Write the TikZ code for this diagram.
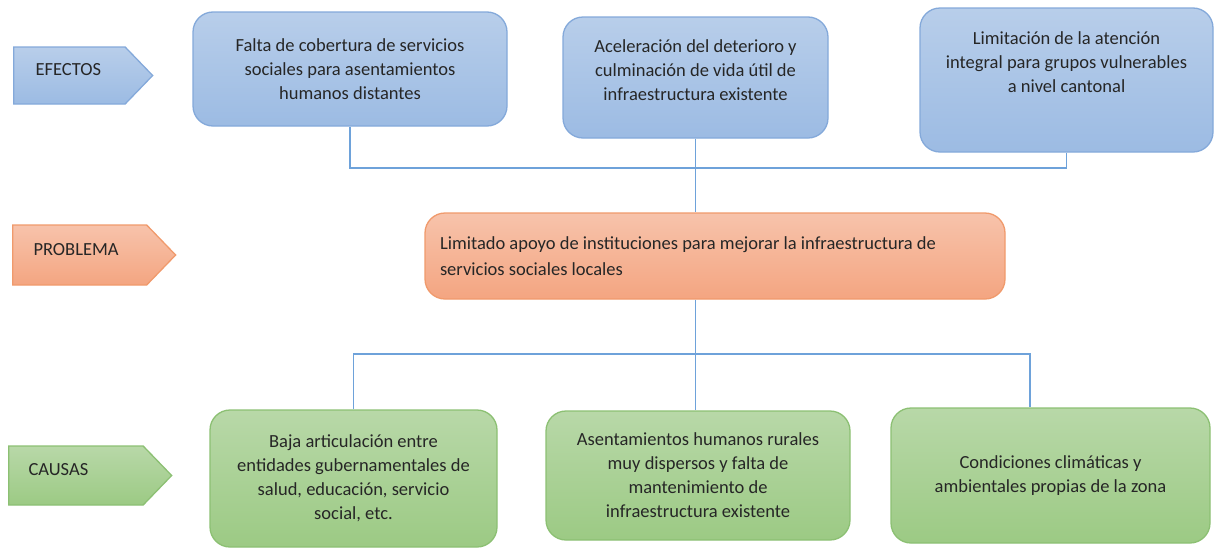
\documentclass[tikz,border=0pt]{standalone}
\usepackage{fontspec}
\setmainfont{Carlito}
\usetikzlibrary{shapes.symbols}

\definecolor{azulA}{HTML}{B8CEEA}
\definecolor{azulB}{HTML}{9CBBE3}
\definecolor{azulL}{HTML}{84A9DA}
\definecolor{naranjaA}{HTML}{F7C3AB}
\definecolor{naranjaB}{HTML}{F4A581}
\definecolor{naranjaL}{HTML}{F09A6C}
\definecolor{verdeA}{HTML}{B8D8A8}
\definecolor{verdeB}{HTML}{9CCA84}
\definecolor{verdeL}{HTML}{8CC073}
\definecolor{linea}{HTML}{6EA2DA}
\definecolor{letra}{HTML}{262626}

\begin{document}
\begin{tikzpicture}[x=1pt,y=-1pt,
    caja/.style={rounded corners=20pt, line width=1.3pt, inner sep=0pt, align=center, text=letra, font=\fontsize{18.5}{24}\selectfont},
    azul/.style={draw=azulL, top color=azulA, bottom color=azulB},
    naranja/.style={draw=naranjaL, top color=naranjaA, bottom color=naranjaB},
    verde/.style={draw=verdeL, top color=verdeA, bottom color=verdeB},
    flecha/.style={signal, signal to=east, signal pointer angle=92, line width=1.3pt, inner sep=0pt, anchor=west},
    texto/.style={align=center, text=letra, font=\fontsize{18.5}{24}\selectfont},
    conector/.style={draw=linea, line width=1.4pt}]

        \useasboundingbox (0,0) rectangle (1214,549);

        %etiquetas de la izquierda
        \node[flecha, azul, minimum width=139pt, minimum height=57pt] (efectos) at (13,75.5) {};
        \node[texto, anchor=west] (efectosT) at (32,70) {EFECTOS};
        \node[flecha, naranja, minimum width=163pt, minimum height=60pt] (problema) at (12,255) {};
        \node[texto, anchor=west] (problemaT) at (30,250) {PROBLEMA};
        \node[flecha, verde, minimum width=163pt, minimum height=59pt] (causas) at (8,475.5) {};
        \node[texto, anchor=west] (causasT) at (25,470) {CAUSAS};

        %efectos
        \node[caja, azul, minimum width=314pt, minimum height=114pt] (e1) at (350,69)
            {Falta de cobertura de servicios\\sociales para asentamientos\\humanos distantes};
        \node[caja, azul, minimum width=265pt, minimum height=121pt] (e2) at (695.5,77.5) {};
        \node[texto] (e2T) at (695.5,70.5) {Aceleración del deterioro y\\culminación de vida útil de\\infraestructura existente};
        \node[caja, azul, minimum width=293pt, minimum height=144pt] (e3) at (1066.5,80) {};
        \node[texto] (e3T) at (1066.5,62) {Limitación de la atención\\integral para grupos vulnerables\\a nivel cantonal};

        %problema
        \node[caja, naranja, minimum width=580pt, minimum height=86pt, align=flush left, text width=550pt,
            font=\fontsize{18.5}{26}\selectfont] (prob) at (715,256)
            {Limitado apoyo de instituciones para mejorar la infraestructura de\\servicios sociales locales};

        %causas
        \node[caja, verde, minimum width=287pt, minimum height=137pt] (c1) at (353.5,478.5)
            {Baja articulación entre\\entidades gubernamentales de\\salud, educación, servicio\\social, etc.};
        \node[caja, verde, minimum width=304pt, minimum height=129pt] (c2) at (698,475.5)
            {Asentamientos humanos rurales\\muy dispersos y falta de\\mantenimiento de\\infraestructura existente};
        \node[caja, verde, minimum width=319pt, minimum height=135pt] (c3) at (1050.5,475.5)
            {Condiciones climáticas y\\ambientales propias de la zona};

        %lineas
        \coordinate (barraE) at (0,168);
        \coordinate (barraC) at (0,354);
        \coordinate (bajada) at (1030,0);
        \draw[conector] (e1.south) -- (e1.south |- barraE) -- (e3.south |- barraE) -- (e3.south);
        \draw[conector] (e2.south) -- (e2.south |- prob.north);
        \draw[conector] (e2.south |- prob.south) -- (e2.south |- c2.north);
        \draw[conector] (c1.north) -- (c1.north |- barraC) -- (bajada |- barraC) -- (bajada |- c3.north);
    \end{tikzpicture}
\end{document}
